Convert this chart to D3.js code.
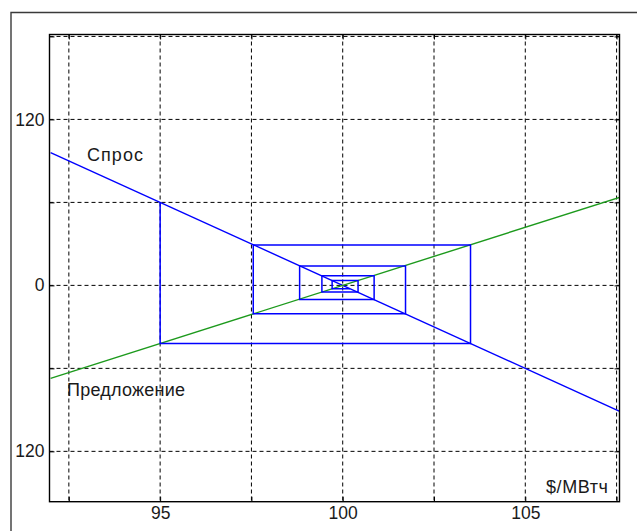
<!DOCTYPE html>
<html>
<head>
<meta charset="utf-8">
<script src="https://cdn.jsdelivr.net/npm/d3@7"></script>
<style>
  html, body { margin: 0; padding: 0; background: #fff; }
  svg { display: block; }
  text { font-family: "Liberation Sans", Arial, sans-serif; fill: #1a1a1a; }
</style>
</head>
<body>
<svg id="chart" width="637" height="531"></svg>
<script>
// Price axis ($/MWh) and quantity axis
const xGrid = [92.5, 95, 97.5, 100, 102.5, 105, 107.5];
const xLabelled = [95, 100, 105];
const yGrid = [-120, -60, 0, 60, 120, 180];
const yLabelled = [120, 0, -120];
const yLabelText = ["120", "0", "120"];

// Demand and supply lines (end points)
const demandP = [92, 107.6];
const demandQ = [96, -91.2];
const supplyP = [92, 107.6];
const supplyQ = [-67.2, 63.8];

// Cobweb path: price / quantity at each corner
const cobP = [95, 95, 103.5, 103.5, 97.55, 97.55, 101.72, 101.72, 98.82, 98.82,
              100.86, 100.86, 99.43, 99.43, 100.42, 100.42, 99.71, 99.71, 100.2];
const cobQ = [60, -42, -42, 29.2, 29.2, -20.5, -20.5, 14.0, 14.0, -10.2,
              -10.2, 6.9, 6.9, -4.8, -4.8, 3.5, 3.5, -2.4, -2.4];

const svg = d3.select("#chart");
const L = 49.5, R = 619.5, T = 34.5, B = 501.7;

const x = d3.scaleLinear().domain([91.97, 107.58]).range([L, R]);
const y = d3.scaleLinear().domain([-156.4, 181.4]).range([B, T]);

// outer frame (left and top edges)
svg.append("path")
  .attr("d", `M11,540 L11,12.5 L640,12.5`)
  .attr("fill", "none").attr("stroke", "#3a3a3a").attr("stroke-width", 1.4);

svg.append("defs").append("clipPath").attr("id", "plotclip")
  .append("rect").attr("x", L).attr("y", T).attr("width", R - L).attr("height", B - T);

// grid
const grid = svg.append("g");
grid.selectAll("line.vx").data(xGrid).join("line")
  .attr("x1", d => x(d)).attr("x2", d => x(d)).attr("y1", T).attr("y2", B)
  .attr("stroke", "#000").attr("stroke-width", 1).attr("stroke-dasharray", "4,3");
grid.selectAll("line.hy").data(yGrid).join("line")
  .attr("y1", d => y(d)).attr("y2", d => y(d)).attr("x1", L).attr("x2", R)
  .attr("stroke", "#000").attr("stroke-width", 1).attr("stroke-dasharray", "4,3");

// axes with inward ticks
const fmtX = d => xLabelled.includes(d) ? String(d) : "";
const fmtY = d => { const i = yLabelled.indexOf(d); return i >= 0 ? yLabelText[i] : ""; };

const axB = svg.append("g").attr("transform", `translate(0,${B})`)
  .call(d3.axisBottom(x).tickValues(xGrid).tickFormat(fmtX).tickSize(-5).tickPadding(5));
const axT = svg.append("g").attr("transform", `translate(0,${T})`)
  .call(d3.axisTop(x).tickValues(xGrid).tickFormat("").tickSize(-5));
const axL = svg.append("g").attr("transform", `translate(${L},0)`)
  .call(d3.axisLeft(y).tickValues(yGrid).tickFormat(fmtY).tickSize(-5).tickPadding(5));
const axR = svg.append("g").attr("transform", `translate(${R},0)`)
  .call(d3.axisRight(y).tickValues(yGrid).tickFormat("").tickSize(-5));

[axB, axT, axL, axR].forEach(a => {
  a.select(".domain").remove();
  a.selectAll(".tick line").attr("stroke", "#000").attr("stroke-width", 1);
  a.selectAll(".tick text").style("font-size", "17.5px")
    .style("font-family", '"Liberation Sans", Arial, sans-serif').attr("fill", "#1a1a1a");
});
axB.selectAll(".tick text").attr("y", 5);
axL.selectAll(".tick text").attr("x", -5);

// series
const plot = svg.append("g").attr("clip-path", "url(#plotclip)");
const line = d3.line().x(d => x(d[0])).y(d => y(d[1]));

plot.append("path")
  .datum(demandP.map((p, i) => [p, demandQ[i]]))
  .attr("d", line).attr("fill", "none").attr("stroke", "#0000ff").attr("stroke-width", 1.4);

plot.append("path")
  .datum(supplyP.map((p, i) => [p, supplyQ[i]]))
  .attr("d", line).attr("fill", "none").attr("stroke", "#1d9a1d").attr("stroke-width", 1.4);

plot.append("path")
  .datum(cobP.map((p, i) => [p, cobQ[i]]))
  .attr("d", line).attr("fill", "none").attr("stroke", "#0000ff").attr("stroke-width", 1.5);

// plot box
svg.append("rect").attr("x", L).attr("y", T).attr("width", R - L).attr("height", B - T)
  .attr("fill", "none").attr("stroke", "#000").attr("stroke-width", 1.4);

// annotations
svg.append("text").attr("x", 87).attr("y", 161).attr("textLength", 56)
  .attr("lengthAdjust", "spacing").style("font-size", "18px").text("Спрос");
svg.append("text").attr("x", 67).attr("y", 396).attr("textLength", 118)
  .attr("lengthAdjust", "spacing").style("font-size", "18px").text("Предложение");
svg.append("text").attr("x", 546).attr("y", 493).attr("textLength", 62)
  .attr("lengthAdjust", "spacing").style("font-size", "18px").text("$/МВтч");
</script>
</body>
</html>
